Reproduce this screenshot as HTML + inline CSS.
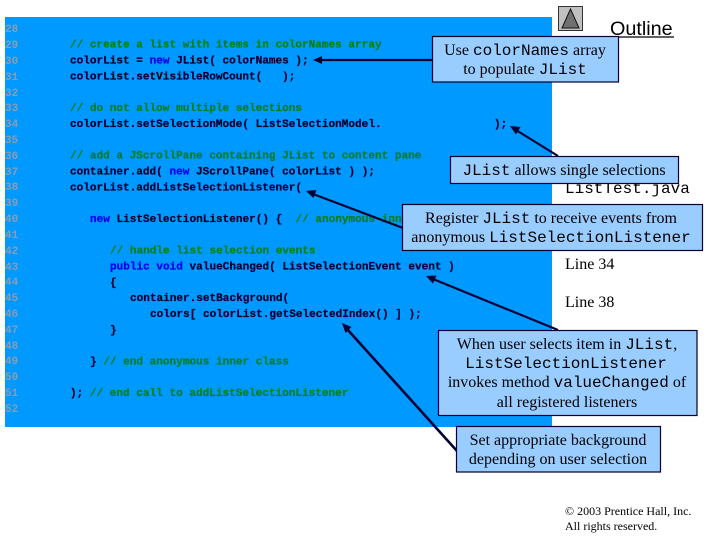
<!DOCTYPE html>
<html>
<head>
<meta charset="utf-8">
<style>
html,body{margin:0;padding:0;background:#fff;width:720px;height:540px;overflow:hidden}
svg{display:block}
text{white-space:pre}
.c{font-family:"Liberation Mono",monospace;font-size:11.05px;font-weight:bold;fill:#000033;stroke:#000033;stroke-width:.25}
.n{font-family:"Liberation Mono",monospace;font-size:11px;font-weight:bold;fill:#8c9cb0}
.g{fill:#007f1f;stroke:#007f1f}
.k{fill:#0000ee;stroke:#0000ee}
.s{font-family:"Liberation Serif",serif;font-size:16px;fill:#000}
.m{font-family:"Liberation Mono",monospace;font-size:16px;fill:#000}
.box{fill:#99ccff;stroke:#000033;stroke-width:1.2}
.a{stroke:#000033;stroke-width:2.2;fill:none}
.h{fill:#000033}
</style>
</head>
<body>
<svg width="720" height="540" viewBox="0 0 720 540" xmlns="http://www.w3.org/2000/svg">
<rect x="5" y="17" width="547" height="410" fill="#0099ff"/>

<g class="n">
<text x="5" y="32">28</text><text x="5" y="48">29</text><text x="5" y="64">30</text><text x="5" y="80">31</text>
<text x="5" y="96">32</text><text x="5" y="111">33</text><text x="5" y="127">34</text><text x="5" y="143">35</text>
<text x="5" y="159">36</text><text x="5" y="175">37</text><text x="5" y="190">38</text><text x="5" y="206">39</text>
<text x="5" y="222">40</text><text x="5" y="238">41</text><text x="5" y="254">42</text><text x="5" y="270">43</text>
<text x="5" y="285">44</text><text x="5" y="301">45</text><text x="5" y="317">46</text><text x="5" y="333">47</text>
<text x="5" y="349">48</text><text x="5" y="364">49</text><text x="5" y="380">50</text><text x="5" y="396">51</text>
<text x="5" y="412">52</text>
</g>

<g class="c">
<text x="70" y="47.6" class="c g">// create a list with items in colorNames array</text>
<text x="70" y="63.5" class="c">colorList = <tspan class="k">new</tspan> JList( colorNames );</text>
<text x="70" y="79.3" class="c">colorList.setVisibleRowCount(   );</text>
<text x="70" y="111" class="c g">// do not allow multiple selections</text>
<text x="70" y="127" class="c">colorList.setSelectionMode( ListSelectionModel.</text>
<text x="494" y="127" class="c">);</text>
<text x="70" y="158.6" class="c g">// add a JScrollPane containing JList to content pane</text>
<text x="70" y="174.5" class="c">container.add( <tspan class="k">new</tspan> JScrollPane( colorList ) );</text>
<text x="70" y="190.3" class="c">colorList.addListSelectionListener(</text>
<text x="90" y="222" class="c"><tspan class="k">new</tspan> ListSelectionListener() {  <tspan class="g">// anonymous inner class</tspan></text>
<text x="110" y="253.6" class="c g">// handle list selection events</text>
<text x="110" y="269.5" class="c"><tspan class="k">public void</tspan> valueChanged( ListSelectionEvent event )</text>
<text x="110" y="285.3" class="c">{</text>
<text x="130" y="301.2" class="c">container.setBackground(</text>
<text x="150" y="317" class="c">colors[ colorList.getSelectedIndex() ] );</text>
<text x="110" y="332.8" class="c">}</text>
<text x="90" y="364.5" class="c">} <tspan class="g">// end anonymous inner class</tspan></text>
<text x="70" y="396.2" class="c">); <tspan class="g">// end call to addListSelectionListener</tspan></text>
</g>

<!-- outline column -->
<rect x="558.5" y="6.5" width="24" height="24" fill="#c0c0c0" stroke="#333"/>
<polygon points="570.5,9 579,28 562,28" fill="#707070" stroke="#111" stroke-width="1"/>
<text x="610" y="35" font-family="'Liberation Sans',sans-serif" font-size="19.8" fill="#000">Outline</text>
<line x1="610" y1="37" x2="674" y2="37" stroke="#000" stroke-width="1.2"/>
<text x="565" y="193" class="m">ListTest.java</text>
<text x="565" y="269" class="s">Line 34</text>
<text x="565" y="307" class="s">Line 38</text>
<text x="565" y="515" font-family="'Liberation Serif',serif" font-size="12" fill="#000">© 2003 Prentice Hall, Inc.</text>
<text x="565" y="530" font-family="'Liberation Serif',serif" font-size="12" fill="#000">All rights reserved.</text>

<!-- connectors -->
<line class="a" x1="433" y1="60" x2="320" y2="60"/>
<polygon class="h" points="313,60 322,56 322,64"/>
<line class="a" x1="558" y1="156" x2="516" y2="130"/>
<polygon class="h" points="510,126 520.5,127 516,134.5"/>
<line class="a" x1="403" y1="228" x2="313" y2="194"/>
<polygon class="h" points="306,191 316.5,190 313.5,198"/>
<line class="a" x1="558" y1="330" x2="433" y2="279"/>
<polygon class="h" points="426,276 436.5,275.5 433,283.5"/>
<line class="a" x1="457" y1="451" x2="347" y2="329" style="stroke-width:2.6"/>
<polygon class="h" points="342,323 351.5,327 345.5,333"/>

<!-- callouts -->
<rect class="box" x="432.5" y="36.5" width="186" height="45.5"/>
<text x="525" y="55" text-anchor="middle" class="s">Use <tspan class="m">colorNames</tspan> array</text>
<text x="525" y="74" text-anchor="middle" class="s">to populate <tspan class="m">JList</tspan></text>

<rect class="box" x="450.5" y="156.5" width="228" height="27"/>
<text x="564" y="175" text-anchor="middle" class="s"><tspan class="m">JList</tspan> allows single selections</text>

<rect class="box" x="402.5" y="204.5" width="300" height="46"/>
<text x="551" y="223" text-anchor="middle" class="s">Register <tspan class="m">JList</tspan> to receive events from</text>
<text x="551" y="242" text-anchor="middle" class="s">anonymous <tspan class="m">ListSelectionListener</tspan></text>

<rect class="box" x="438.5" y="330.5" width="258.5" height="85"/>
<text x="567" y="349" text-anchor="middle" class="s">When user selects item in <tspan class="m">JList</tspan>,</text>
<text x="566" y="368" text-anchor="middle" class="m">ListSelectionListener</text>
<text x="567" y="387" text-anchor="middle" class="s">invokes method <tspan class="m">valueChanged</tspan> of</text>
<text x="567" y="407" text-anchor="middle" class="s">all registered listeners</text>

<rect class="box" x="456.5" y="426.5" width="204" height="45.5"/>
<text x="558" y="445" text-anchor="middle" class="s">Set appropriate background</text>
<text x="558" y="464" text-anchor="middle" class="s">depending on user selection</text>
</svg>
</body>
</html>
